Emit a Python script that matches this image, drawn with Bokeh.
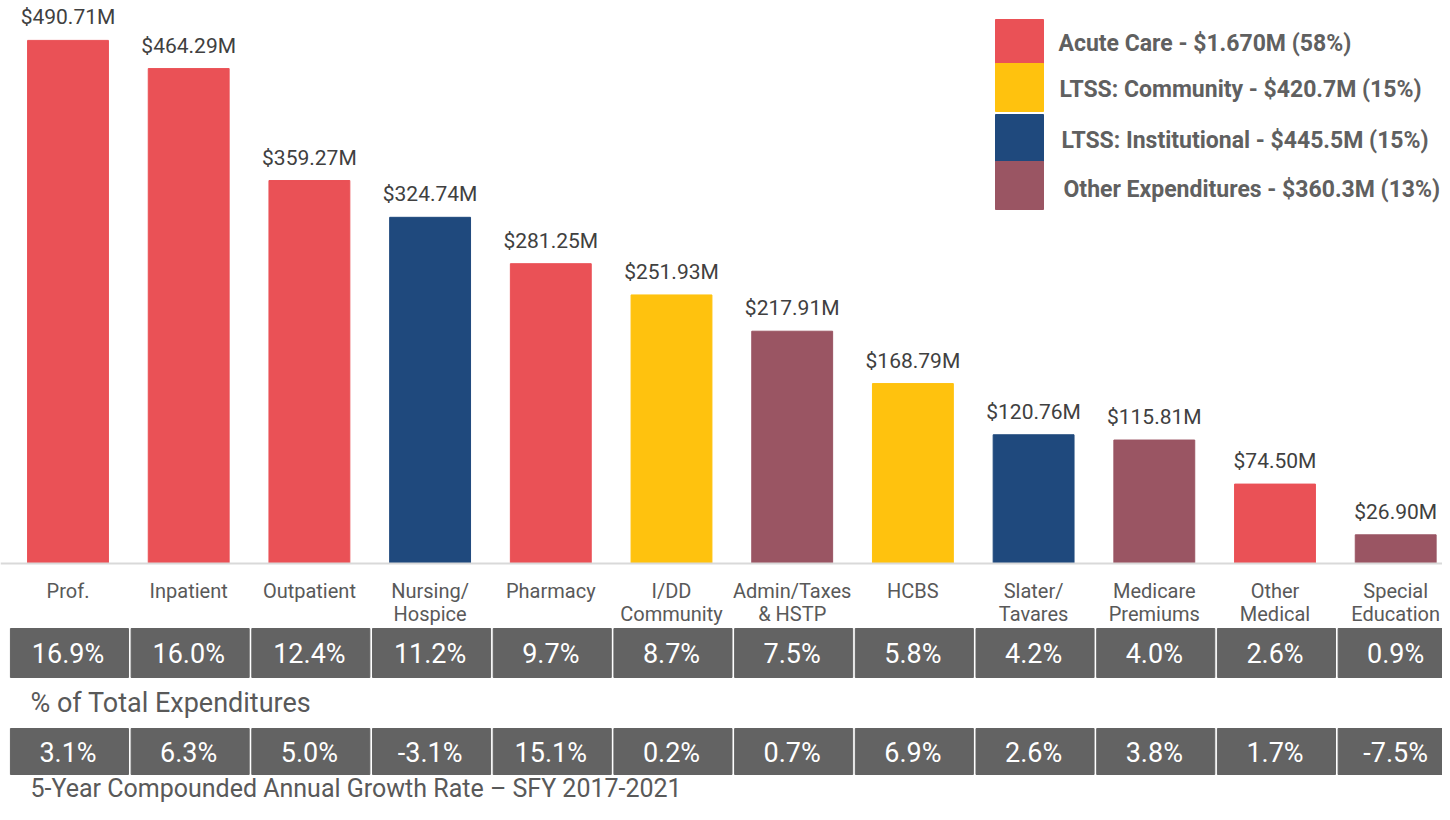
from bokeh.plotting import figure
from bokeh.models import Range1d, Span
from bokeh.core.properties import value
from bokeh.embed import file_html
from bokeh.resources import INLINE

# ---------------- data ----------------
categories = ["Prof.", "Inpatient", "Outpatient", "Nursing/\nHospice", "Pharmacy",
              "I/DD\nCommunity", "Admin/Taxes\n& HSTP", "HCBS", "Slater/\nTavares",
              "Medicare\nPremiums", "Other\nMedical", "Special\nEducation"]
expenditures = [490.71, 464.29, 359.27, 324.74, 281.25, 251.93, 217.91, 168.79,
                120.76, 115.81, 74.50, 26.90]
groups = ["Acute Care", "Acute Care", "Acute Care", "LTSS: Institutional", "Acute Care",
          "LTSS: Community", "Other Expenditures", "LTSS: Community", "LTSS: Institutional",
          "Other Expenditures", "Acute Care", "Other Expenditures"]
pct_of_total = ["16.9%", "16.0%", "12.4%", "11.2%", "9.7%", "8.7%", "7.5%", "5.8%",
                "4.2%", "4.0%", "2.6%", "0.9%"]
cagr = ["3.1%", "6.3%", "5.0%", "-3.1%", "15.1%", "0.2%", "0.7%", "6.9%",
        "2.6%", "3.8%", "1.7%", "-7.5%"]
legend_groups = ["Acute Care", "LTSS: Community", "LTSS: Institutional", "Other Expenditures"]
legend_labels = ["Acute Care - $1.670M (58%)", "LTSS: Community - $420.7M (15%)",
                 "LTSS: Institutional - $445.5M (15%)", "Other Expenditures - $360.3M (13%)"]
row_titles = ["% of Total Expenditures",
              "5-Year Compounded Annual Growth Rate \u2013 SFY 2017-2021"]

group_colors = {"Acute Care": "#EA5156", "LTSS: Community": "#FFC20E",
                "LTSS: Institutional": "#1F497D", "Other Expenditures": "#9A5563"}

# ---------------- layout helpers (pixel layout of the page) ----------------
W, H = 1442, 804
PXM = 1.066          # pixels per $1M
XPX = 120.7          # pixels per category
X0 = 67.5 / XPX - 0.5  # left offset so the first category sits at its place

def dy(Y):           # pixel row -> data y
    return (563 - Y) / PXM

def sx(X):           # pixel column -> data x
    return X / XPX - X0

n = len(categories)
xs = [i + 0.5 for i in range(n)]   # category slots on the numeric scale

p = figure(width=W, height=H, x_range=Range1d(sx(0), sx(W)),
           y_range=Range1d(dy(H), dy(0)), output_backend="svg",
           toolbar_location=None, x_axis_location=None, y_axis_location=None,
           min_border=0, outline_line_color=None)
p.grid.visible = False

FONT = value("Roboto")
GRAY = "#595959"

# bars
bar_colors = [group_colors[g] for g in groups]
p.vbar(x=xs, top=expenditures, bottom=0, width=0.67, color=bar_colors)
p.add_layout(Span(location=0, dimension="width", line_color="#D9D9D9", line_width=2))

# value labels
p.text(x=xs, y=[v + 23 / PXM for v in expenditures],
       text=["${:.2f}M".format(v) for v in expenditures],
       text_align="center", text_baseline="middle", text_font=FONT,
       text_font_size="21px", text_color="#404040")

# category labels (one or two lines)
line1 = [c.split("\n")[0] for c in categories]
line2 = [c.split("\n")[1] if "\n" in c else "" for c in categories]
p.text(x=xs, y=[dy(590)] * n, text=line1, text_align="center", text_baseline="middle",
       text_font=FONT, text_font_size="20px", text_color=GRAY)
p.text(x=xs, y=[dy(613)] * n, text=line2, text_align="center", text_baseline="middle",
       text_font=FONT, text_font_size="20px", text_color=GRAY)

# table rows
for yc, hgt, vals in ((652.5, 49, pct_of_total), (751, 46, cagr)):
    p.rect(x=[x + 0.012 for x in xs], y=[dy(yc)] * n, width=0.978, height=hgt / PXM,
           color="#636363")
    p.text(x=xs, y=[dy(yc + 1)] * n, text=vals,
           text_align="center", text_baseline="middle", text_font=FONT,
           text_font_size="27px", text_color="white")

p.text(x=[sx(30)], y=[dy(702)], text=row_titles[:1],
       text_align="left", text_baseline="middle", text_font=FONT,
       text_font_size="27px", text_color=GRAY)
p.text(x=[sx(30)], y=[dy(788)], text=row_titles[1:],
       text_align="left", text_baseline="middle", text_font=FONT,
       text_font_size="25px", text_color=GRAY)

# legend
sq_top = [19, 63, 114, 161]
sq_bot = [63, 111, 161, 209]
txt_y = [43, 89, 140, 189]
txt_x = [1058, 1059, 1061, 1063]
p.quad(left=[sx(995)] * 4, right=[sx(1043)] * 4,
       top=[dy(t) for t in sq_top], bottom=[dy(b) for b in sq_bot],
       color=[group_colors[g] for g in legend_groups])
p.text(x=[sx(x) for x in txt_x], y=[dy(y) for y in txt_y], text=legend_labels,
       text_align="left", text_baseline="middle",
       text_font=FONT, text_font_style="bold",
       text_font_size="23px", text_color="#606060")

open("out.html", "w").write(file_html(p, INLINE))
